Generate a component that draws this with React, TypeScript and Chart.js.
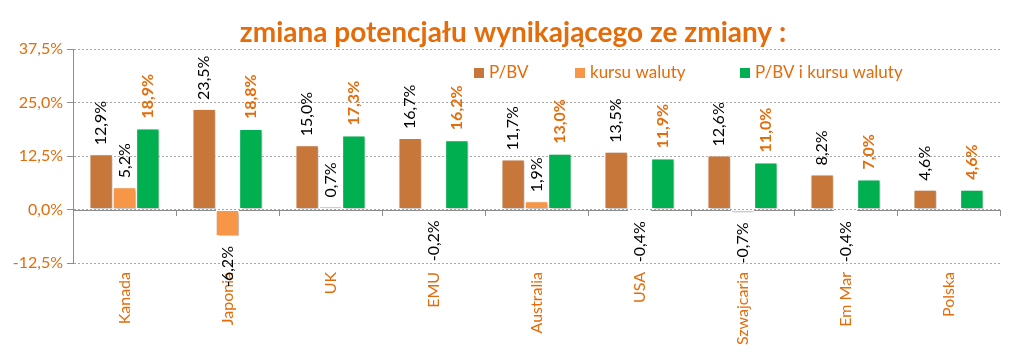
import React, { useEffect, useRef } from 'react';
import { Chart, registerables } from 'chart.js';

Chart.register(...registerables);

const categories = ['Kanada', 'Japonia', 'UK', 'EMU', 'Australia', 'USA', 'Szwajcaria', 'Em Mar', 'Polska'];
const pbv = [12.9, 23.5, 15.0, 16.7, 11.7, 13.5, 12.6, 8.2, 4.6];
const kursu = [5.2, -6.2, 0.7, -0.2, 1.9, -0.4, -0.7, -0.4, null];
const combined = [18.9, 18.8, 17.3, 16.2, 13.0, 11.9, 11.0, 7.0, 4.6];
const yMin = -12.5;
const yMax = 37.5;
const yStep = 12.5;
const seriesNames = ['P/BV', 'kursu waluty', 'P/BV i kursu waluty'];
const titleText = 'zmiana potencjału wynikającego ze zmiany :';

const ORANGE = '#E46C0A';
const COLORS = ['#C8773A', '#F79646', '#00B050'];
const FONT = 'Lato, "Open Sans", sans-serif';

const fmt = (v: number) => v.toFixed(1).replace('.', ',') + '%';

const decorPlugin = {
  id: 'decor',
  beforeDatasetsDraw(chart: any) {
    const { ctx, chartArea } = chart;
    const y = chart.scales.y;
    const x = chart.scales.x;
    const y0 = y.getPixelForValue(0);
    ctx.save();
    ctx.strokeStyle = '#8C8C8C';
    ctx.lineWidth = 1;
    ctx.beginPath();
    ctx.moveTo(chartArea.left, Math.round(y0) + 0.5);
    ctx.lineTo(chartArea.right, Math.round(y0) + 0.5);
    const n = categories.length;
    const w = (chartArea.right - chartArea.left) / n;
    for (let k = 0; k <= n; k++) {
      const px = Math.round(x.getPixelForValue(0) - w / 2 + k * w) + 0.5;
      ctx.moveTo(px, Math.round(y0));
      ctx.lineTo(px, Math.round(y0) + 6);
    }
    ctx.stroke();
    ctx.restore();
    ctx.save();
    ctx.shadowColor = 'rgba(0,0,0,0.28)';
    ctx.shadowBlur = 3;
    ctx.shadowOffsetX = 1.5;
    ctx.shadowOffsetY = 1.5;
  },
  afterDatasetsDraw(chart: any) {
    const { ctx } = chart;
    ctx.restore();
    chart.data.datasets.forEach((ds: any, di: number) => {
      const meta = chart.getDatasetMeta(di);
      meta.data.forEach((bar: any, i: number) => {
        const v = ds.data[i];
        if (v === null || v === undefined) return;
        ctx.save();
        ctx.translate(bar.x, bar.y);
        ctx.rotate(-Math.PI / 2);
        const bold = di === 2;
        ctx.font = `${bold ? 'bold ' : ''}16px ${FONT}`;
        ctx.fillStyle = bold ? ORANGE : '#000000';
        ctx.textBaseline = 'middle';
        if (v >= 0) {
          ctx.textAlign = 'left';
          ctx.fillText(fmt(v), bold ? 10 : 9, 0);
        } else {
          ctx.textAlign = 'right';
          ctx.fillText(fmt(v), -10, 0);
        }
        ctx.restore();
      });
    });
  },
  afterDraw(chart: any) {
    const { ctx, chartArea } = chart;
    ctx.save();
    ctx.font = `bold 28px ${FONT}`;
    ctx.fillStyle = ORANGE;
    ctx.textAlign = 'center';
    ctx.textBaseline = 'alphabetic';
    ctx.fillText(titleText, 513, 42);
    // legend
    const offsets = [401, 502, 667];
    const ly = chartArea.top + 24;
    ctx.font = `17px ${FONT}`;
    ctx.textAlign = 'left';
    ctx.textBaseline = 'middle';
    chart.data.datasets.forEach((ds: any, i: number) => {
      const lx = chartArea.left + offsets[i];
      ctx.fillStyle = COLORS[i];
      ctx.fillRect(lx, ly - 5, 10, 10);
      ctx.fillStyle = ORANGE;
      ctx.fillText(ds.label, lx + 15, ly);
    });
    ctx.restore();
  },
};

export default function App() {
  const ref = useRef<HTMLCanvasElement>(null);
  useEffect(() => {
    if (!ref.current) return;
    const chart = new Chart(ref.current, {
      type: 'bar',
      data: {
        labels: categories,
        datasets: [
          { label: seriesNames[0], data: pbv, backgroundColor: COLORS[0] },
          { label: seriesNames[1], data: kursu, backgroundColor: COLORS[1] },
          { label: seriesNames[2], data: combined, backgroundColor: COLORS[2] },
        ].map((d) => ({
          ...d,
          borderColor: '#FFFFFF',
          borderWidth: 1,
          borderSkipped: false,
          categoryPercentage: 0.68,
          barPercentage: 1,
        })) as any,
      },
      options: {
        animation: false,
        responsive: false,
        maintainAspectRatio: false,
        layout: { padding: { top: 49, right: 23, left: 0, bottom: 0 } },
        plugins: {
          legend: { display: false },
          title: { display: false },
          tooltip: { enabled: false },
        },
        scales: {
          x: {
            grid: { display: false, drawTicks: false },
            border: { display: false },
            ticks: {
              minRotation: 90,
              maxRotation: 90,
              padding: 9,
              color: ORANGE,
              font: { family: FONT, size: 16 },
            },
            afterFit: (s: any) => {
              s.height = 94;
            },
          },
          y: {
            min: yMin,
            max: yMax,
            grid: {
              color: '#A6A6A6',
              tickLength: 6,
              tickColor: '#8C8C8C',
              tickBorderDash: [],
            },
            border: { display: true, color: '#8C8C8C', dash: [2, 2] },
            ticks: {
              stepSize: yStep,
              padding: 4,
              color: ORANGE,
              font: { family: FONT, size: 16 },
              callback: (v: any) => fmt(Number(v)),
            },
            afterFit: (s: any) => {
              s.width = 73;
            },
          },
        },
      },
      plugins: [decorPlugin],
    });
    return () => chart.destroy();
  }, []);
  return (
    <div style={{ position: 'fixed', left: 0, top: 0, width: 1023, height: 357, background: '#fff' }}>
      <canvas ref={ref} width={1023} height={357} style={{ width: 1023, height: 357, display: 'block' }} />
    </div>
  );
}
